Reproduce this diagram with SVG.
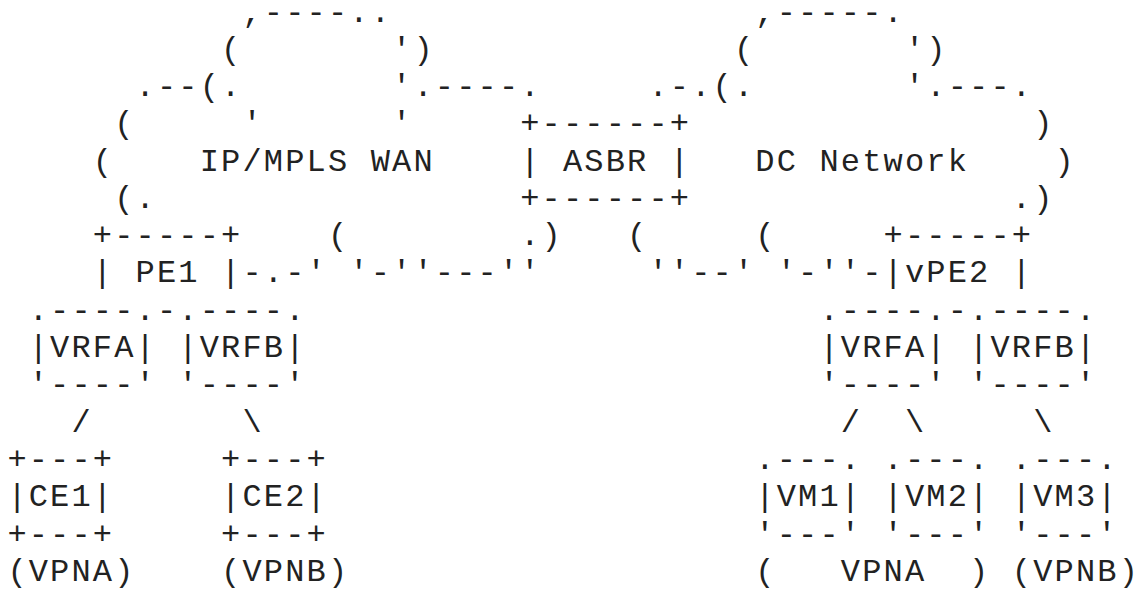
<svg xmlns="http://www.w3.org/2000/svg" width="1138" height="589" viewBox="0 0 1138 589" xml:space="preserve">
<style>
text{font-family:"Liberation Mono","DejaVu Sans Mono",monospace;font-size:32px;letter-spacing:2.17px;fill:#222222;white-space:pre}
</style>
<rect width="1138" height="589" fill="#ffffff"/>
<g id="cloud-wan">
<text x="242.45" y="22.3">,----..</text>
<text x="221.08" y="58.6">(</text>
<text x="392.04" y="58.6">')</text>
<text x="135.60" y="95.9">.--(.</text>
<text x="392.04" y="95.9">'.----.</text>
<text x="114.23" y="133.2">(</text>
<text x="242.45" y="133.2">'</text>
<text x="392.04" y="133.2">'</text>
<text x="92.86" y="170.5">(</text>
<text x="199.71" y="170.5">IP/MPLS WAN</text>
<text x="114.23" y="207.8">(.</text>
<text x="327.93" y="245.1">(</text>
<text x="520.26" y="245.1">.)</text>
</g>
<g id="cloud-dc">
<text x="755.33" y="22.3">,-----.</text>
<text x="733.96" y="58.6">(</text>
<text x="904.92" y="58.6">')</text>
<text x="648.48" y="95.9">.-.(.</text>
<text x="904.92" y="95.9">'.---.</text>
<text x="1033.14" y="133.2">)</text>
<text x="755.33" y="170.5">DC Network</text>
<text x="1054.51" y="170.5">)</text>
<text x="1011.77" y="207.8">.)</text>
<text x="627.11" y="245.1">(</text>
<text x="755.33" y="245.1">(</text>
</g>
<g id="asbr">
<text x="520.26" y="133.2">+------+</text>
<text x="520.26" y="170.5">| ASBR |</text>
<text x="520.26" y="207.8">+------+</text>
</g>
<g id="pe1">
<text x="92.86" y="245.1">+-----+</text>
<text x="92.86" y="282.4">| PE1 |</text>
</g>
<g id="vpe2">
<text x="883.55" y="245.1">+-----+</text>
<text x="883.55" y="282.4">|vPE2 |</text>
</g>
<g id="connectors">
<text x="242.45" y="282.4">-.-' '-''---''</text>
<text x="648.48" y="282.4">''--' '-''-</text>
<text x="71.49" y="431.6">/</text>
<text x="242.45" y="431.6">\</text>
<text x="840.81" y="431.6">/</text>
<text x="904.92" y="431.6">\</text>
<text x="1033.14" y="431.6">\</text>
</g>
<g id="vrf-left">
<text x="28.75" y="319.7">.----.-.----.</text>
<text x="28.75" y="357.0">|VRFA| |VRFB|</text>
<text x="28.75" y="394.3">'----' '----'</text>
</g>
<g id="vrf-right">
<text x="819.44" y="319.7">.----.-.----.</text>
<text x="819.44" y="357.0">|VRFA| |VRFB|</text>
<text x="819.44" y="394.3">'----' '----'</text>
</g>
<g id="ce1">
<text x="7.38" y="468.9">+---+</text>
<text x="7.38" y="506.2">|CE1|</text>
<text x="7.38" y="543.5">+---+</text>
<text x="7.38" y="580.8">(VPNA)</text>
</g>
<g id="ce2">
<text x="221.08" y="468.9">+---+</text>
<text x="221.08" y="506.2">|CE2|</text>
<text x="221.08" y="543.5">+---+</text>
<text x="221.08" y="580.8">(VPNB)</text>
</g>
<g id="vm1">
<text x="755.33" y="468.9">.---.</text>
<text x="755.33" y="506.2">|VM1|</text>
<text x="755.33" y="543.5">'---'</text>
</g>
<g id="vm2">
<text x="883.55" y="468.9">.---.</text>
<text x="883.55" y="506.2">|VM2|</text>
<text x="883.55" y="543.5">'---'</text>
</g>
<g id="vm3">
<text x="1011.77" y="468.9">.---.</text>
<text x="1011.77" y="506.2">|VM3|</text>
<text x="1011.77" y="543.5">'---'</text>
<text x="1011.77" y="580.8">(VPNB)</text>
</g>
<g id="vpna-label">
<text x="755.33" y="580.8">(</text>
<text x="840.81" y="580.8">VPNA</text>
<text x="969.03" y="580.8">)</text>
</g>
</svg>
